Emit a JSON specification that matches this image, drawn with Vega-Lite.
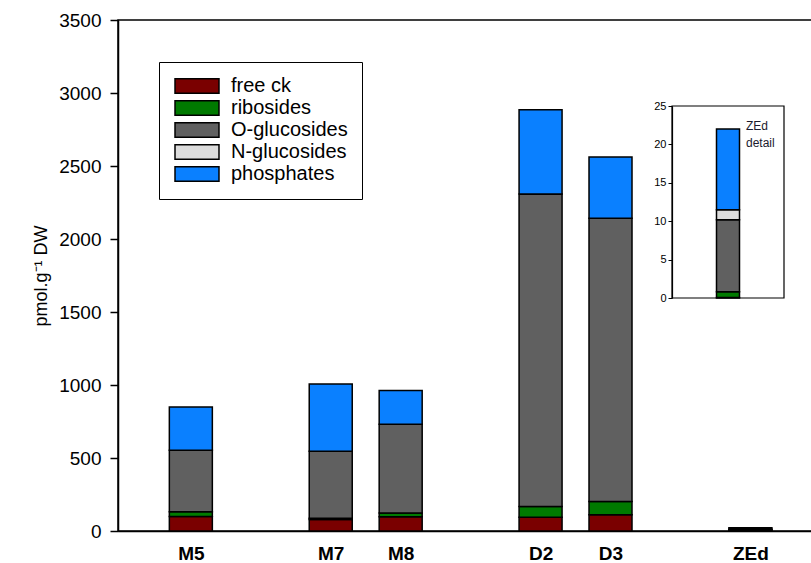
{
  "$schema": "https://vega.github.io/schema/vega-lite/v6.json",
  "width": 700,
  "height": 511,
  "autosize": "none",
  "padding": {"left": 118, "top": 20, "right": 0, "bottom": 32},
  "background": "white",
  "config": {
    "font": "Liberation Sans",
    "view": {"stroke": "black", "strokeWidth": 1.5},
    "axis": {"domainColor": "black", "tickColor": "black", "labelColor": "black", "titleColor": "black", "grid": false}
  },
  "data": {
    "values": [
      {"sample": "M5", "pos": 1, "type": "free ck", "k": 1, "value": 100},
      {"sample": "M5", "pos": 1, "type": "ribosides", "k": 2, "value": 32},
      {"sample": "M5", "pos": 1, "type": "O-glucosides", "k": 3, "value": 421},
      {"sample": "M5", "pos": 1, "type": "N-glucosides", "k": 4, "value": 0},
      {"sample": "M5", "pos": 1, "type": "phosphates", "k": 5, "value": 297},
      {"sample": "M7", "pos": 3, "type": "free ck", "k": 1, "value": 79},
      {"sample": "M7", "pos": 3, "type": "ribosides", "k": 2, "value": 8},
      {"sample": "M7", "pos": 3, "type": "O-glucosides", "k": 3, "value": 460},
      {"sample": "M7", "pos": 3, "type": "N-glucosides", "k": 4, "value": 0},
      {"sample": "M7", "pos": 3, "type": "phosphates", "k": 5, "value": 460},
      {"sample": "M8", "pos": 4, "type": "free ck", "k": 1, "value": 98},
      {"sample": "M8", "pos": 4, "type": "ribosides", "k": 2, "value": 25},
      {"sample": "M8", "pos": 4, "type": "O-glucosides", "k": 3, "value": 608},
      {"sample": "M8", "pos": 4, "type": "N-glucosides", "k": 4, "value": 0},
      {"sample": "M8", "pos": 4, "type": "phosphates", "k": 5, "value": 232},
      {"sample": "D2", "pos": 6, "type": "free ck", "k": 1, "value": 94},
      {"sample": "D2", "pos": 6, "type": "ribosides", "k": 2, "value": 73},
      {"sample": "D2", "pos": 6, "type": "O-glucosides", "k": 3, "value": 2141},
      {"sample": "D2", "pos": 6, "type": "N-glucosides", "k": 4, "value": 0},
      {"sample": "D2", "pos": 6, "type": "phosphates", "k": 5, "value": 578},
      {"sample": "D3", "pos": 7, "type": "free ck", "k": 1, "value": 112},
      {"sample": "D3", "pos": 7, "type": "ribosides", "k": 2, "value": 90},
      {"sample": "D3", "pos": 7, "type": "O-glucosides", "k": 3, "value": 1940},
      {"sample": "D3", "pos": 7, "type": "N-glucosides", "k": 4, "value": 0},
      {"sample": "D3", "pos": 7, "type": "phosphates", "k": 5, "value": 420},
      {"sample": "ZEd", "pos": 9, "type": "free ck", "k": 1, "value": 0.05},
      {"sample": "ZEd", "pos": 9, "type": "ribosides", "k": 2, "value": 0.75},
      {"sample": "ZEd", "pos": 9, "type": "O-glucosides", "k": 3, "value": 9.4},
      {"sample": "ZEd", "pos": 9, "type": "N-glucosides", "k": 4, "value": 1.3},
      {"sample": "ZEd", "pos": 9, "type": "phosphates", "k": 5, "value": 10.5}
    ]
  },
  "layer": [
    {
      "mark": {"type": "bar", "width": 43, "stroke": "black", "strokeWidth": 1.5},
      "encoding": {
        "x": {
          "field": "pos", "type": "quantitative",
          "scale": {"domain": [0.03, 9.895], "nice": false, "zero": false},
          "axis": {
            "values": [1, 3, 4, 6, 7, 9],
            "labelExpr": "datum.value == 1 ? 'M5' : datum.value == 3 ? 'M7' : datum.value == 4 ? 'M8' : datum.value == 6 ? 'D2' : datum.value == 7 ? 'D3' : 'ZEd'",
            "ticks": false, "labelFontSize": 19, "labelFontWeight": "bold", "labelPadding": 13,
            "title": null, "domainWidth": 1.5
          }
        },
        "y": {
          "field": "value", "type": "quantitative", "stack": "zero",
          "scale": {"domain": [0, 3500], "nice": false},
          "axis": {
            "values": [0, 500, 1000, 1500, 2000, 2500, 3000, 3500], "format": "d",
            "tickSize": 8, "tickWidth": 1.5, "labelFontSize": 19, "labelPadding": 9,
            "title": "pmol.g⁻¹ DW", "titleFontSize": 18, "titleFontWeight": "normal", "titlePadding": 8,
            "domainWidth": 1.5
          }
        },
        "color": {
          "field": "type", "type": "nominal",
          "scale": {
            "domain": ["free ck", "ribosides", "O-glucosides", "N-glucosides", "phosphates"],
            "range": ["#7a0000", "#007a00", "#606060", "#dcdcdc", "#0a80ff"]
          },
          "legend": {
            "orient": "none", "legendX": 41, "legendY": 42, "title": null,
            "strokeColor": "black", "fillColor": "white", "padding": 14,
            "symbolType": "M-3,-1H3V1H-3Z", "symbolSize": 215, "symbolOffset": 14,
            "symbolStrokeColor": "black", "symbolStrokeWidth": 1.5, "symbolOpacity": 1,
            "labelFontSize": 20, "labelOffset": 24, "rowPadding": 0, "labelColor": "black"
          }
        },
        "order": {"field": "k", "type": "quantitative"}
      }
    },
    {
      "transform": [{"filter": "datum.sample === 'ZEd'"}],
      "encoding": {
        "x": {
          "field": "sample", "type": "nominal",
          "scale": {"type": "band", "range": [554, 666], "paddingInner": 0, "paddingOuter": 0},
          "axis": null
        }
      },
      "layer": [
        {
          "mark": {"type": "bar", "width": 23, "stroke": "black", "strokeWidth": 1.5},
          "encoding": {
            "y": {
              "field": "value", "type": "quantitative", "stack": "zero",
              "scale": {"domain": [0, 25], "range": [278, 86], "nice": false},
              "axis": {
                "orient": "left", "offset": -554,
                "values": [0, 5, 10, 15, 20, 25], "tickSize": 4, "labelFontSize": 11,
                "labelPadding": 2, "title": null, "domainWidth": 1.2
              }
            },
            "color": {"field": "type", "type": "nominal"},
            "order": {"field": "k", "type": "quantitative"}
          }
        },
        {
          "transform": [{"filter": "datum.k == 1"}],
          "mark": {"type": "rect", "fillOpacity": 0, "stroke": "black", "strokeWidth": 1.2},
          "encoding": {
            "y": {"datum": 0, "type": "quantitative"},
            "y2": {"datum": 25}
          }
        },
        {
          "transform": [{"filter": "datum.k == 1"}],
          "mark": {"type": "text", "align": "left", "baseline": "middle", "fontSize": 12, "lineBreak": "\n", "lineHeight": 17, "dx": 18, "color": "#1a1a2e"},
          "encoding": {
            "y": {"datum": 22.4, "type": "quantitative"},
            "text": {"value": "ZEd\ndetail"}
          }
        }
      ]
    }
  ],
  "resolve": {"scale": {"x": "independent", "y": "independent"}}
}
